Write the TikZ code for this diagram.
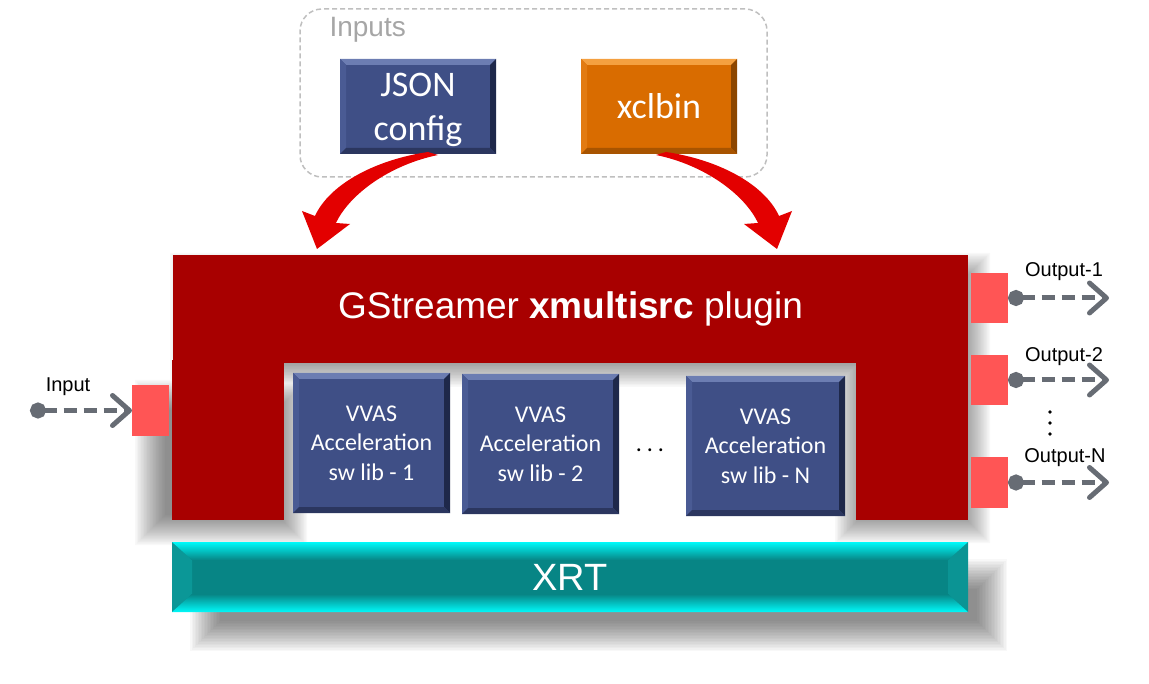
\documentclass[tikz,border=0pt]{standalone}
\usepackage{fontspec}
\setmainfont{Liberation Sans}
\newfontfamily\calib{Carlito}
\usetikzlibrary{arrows.meta,calc}
\definecolor{plugred}{HTML}{A80000}
\definecolor{portred}{HTML}{FF5555}
\definecolor{flowgray}{HTML}{676C74}
\definecolor{arrred}{HTML}{E30000}
\definecolor{navy}{HTML}{3F4F86}
\definecolor{navytop}{HTML}{6C7DB2}
\definecolor{navyleft}{HTML}{4A5B94}
\definecolor{navyright}{HTML}{1E284A}
\definecolor{navybot}{HTML}{2B365F}
\definecolor{orng}{HTML}{D96C00}
\definecolor{orngtop}{HTML}{F4A040}
\definecolor{orngleft}{HTML}{E27B12}
\definecolor{orngright}{HTML}{8C4600}
\definecolor{orngbot}{HTML}{A85400}
\definecolor{teal1}{HTML}{078585}
\definecolor{cyan1}{HTML}{00FAFA}
\definecolor{tealleft}{HTML}{0B9797}
\definecolor{tealright}{HTML}{0B9494}
\definecolor{inputgray}{HTML}{BFBFBF}
\definecolor{labelgray}{HTML}{A6A6A6}
\tikzset{
  box/.style={rectangle, inner sep=0pt, outer sep=0pt, draw=none},
  bev/.style n args={5}{box, fill=#1, path picture={
     \fill[#2] (path picture bounding box.north west) -- (path picture bounding box.north east)
        -- ([shift={(-6pt,-6pt)}]path picture bounding box.north east)
        -- ([shift={(6pt,-6pt)}]path picture bounding box.north west) -- cycle;
     \fill[#3] (path picture bounding box.north west) -- (path picture bounding box.south west)
        -- ([shift={(6pt,6pt)}]path picture bounding box.south west)
        -- ([shift={(6pt,-6pt)}]path picture bounding box.north west) -- cycle;
     \fill[#4] (path picture bounding box.north east) -- (path picture bounding box.south east)
        -- ([shift={(-6pt,6pt)}]path picture bounding box.south east)
        -- ([shift={(-6pt,-6pt)}]path picture bounding box.north east) -- cycle;
     \fill[#5] (path picture bounding box.south west) -- (path picture bounding box.south east)
        -- ([shift={(-6pt,6pt)}]path picture bounding box.south east)
        -- ([shift={(6pt,6pt)}]path picture bounding box.south west) -- cycle;
  }},
  navybox/.style={bev={navy}{navytop}{navyleft}{navyright}{navybot}, text=white, align=center},
  orngbox/.style={bev={orng}{orngtop}{orngleft}{orngright}{orngbot}, text=white, align=center},
  bigtxt/.style={font=\calib\fontsize{36}{44}\selectfont},
  libtxt/.style={font=\calib\fontsize{24}{29.5}\selectfont},
  redpart/.style={box, fill=plugred},
  port/.style={box, fill=portred, minimum width=37pt, minimum height=50pt},
  flow/.style={draw=flowgray, line width=5pt, dash pattern=on 13pt off 7pt,
     {Circle[length=16pt,width=16pt]}-{Straight Barb[length=17pt,width=30pt,line cap=round,line join=round]}},
  outlbl/.style={font=\fontsize{20}{24}\selectfont, anchor=base},
  shadowlayer/.style={fill=black, opacity=0.026},
}
\begin{document}
\begin{tikzpicture}[x=1pt,y=-1pt]
\useasboundingbox (0,0) rectangle (1149,684);

% soft shadows
\foreach \e in {-15,-13.5,...,15} {
  \fill[shadowlayer]
    ({185-\e},{268-\e}) rectangle ({975+\e},{372+\e})
    ({150-\e},{395-\e}) rectangle ({292+\e},{530+\e})
    ({850-\e},{268-\e}) rectangle ({975+\e},{528+\e});
  \fill[shadowlayer]
    ({205-\e},{574-\e}) rectangle ({992+\e},{636+\e});
}

% inputs group
\node[box, draw=inputgray, line width=1.5pt, dash pattern=on 5pt off 3pt, rounded corners=22pt,
      minimum width=467pt, minimum height=168pt] (inputs) at (533.5,93) {};
\node[anchor=base west, text=labelgray, font=\fontsize{28}{32}\selectfont] (inputslbl) at (326,37) {Inputs};

\node[navybox, bigtxt, minimum width=156pt, minimum height=95pt] (json) at (418,106.5) {\rule{0pt}{30pt}JSON\\config};
\node[orngbox, bigtxt, minimum width=156pt, minimum height=95pt] (xclbin) at (659,106.5) {xclbin};

% red curved arrows
\fill[arrred] (428,152) .. controls (374,160) and (329,185) .. (315,216)
   -- (302,211) -- (317,249) -- (350,224) -- (336,223)
   .. controls (349,195) and (389,165) .. (438,155) -- cycle;
\fill[arrred] (666,152) .. controls (720,160) and (765,185) .. (779,216)
   -- (792,211) -- (777,249) -- (744,224) -- (758,223)
   .. controls (745,195) and (705,165) .. (656,155) -- cycle;

% plugin U-shape
\node[redpart, minimum width=112pt, minimum height=160pt] (legL) at (228,440) {};
\node[redpart, minimum width=112pt, minimum height=160pt] (legR) at (912,440) {};
\node[redpart, minimum width=795pt, minimum height=108pt, text=white,
      font=\fontsize{37}{44}\selectfont] (plugin) at (570.5,309) {GStreamer \textbf{xmultisrc} plugin};

% libs
\node[navybox, libtxt, minimum width=157pt, minimum height=140pt] (lib1) at (371.5,443) {VVAS\\Acceleration\\sw lib - 1};
\node[navybox, libtxt, minimum width=157pt, minimum height=140pt] (lib2) at (540.5,444) {VVAS\\Acceleration\\sw lib - 2};
\node[navybox, libtxt, minimum width=159pt, minimum height=140pt] (libN) at (765.5,446) {VVAS\\Acceleration\\sw lib - N};
\node[font=\calib\fontsize{24}{29}\selectfont, anchor=base] (libdots) at (650,452) {.\hspace{5pt}.\hspace{5pt}.};

% XRT
\node[box, fill=teal1, minimum width=796pt, minimum height=70pt, text=white,
      font=\fontsize{38}{44}\selectfont,
      path picture={
        \fill[tealleft] (path picture bounding box.north west) -- (path picture bounding box.south west)
          -- ([shift={(20pt,18pt)}]path picture bounding box.south west)
          -- ([shift={(20pt,-18pt)}]path picture bounding box.north west) -- cycle;
        \fill[tealright] (path picture bounding box.north east) -- (path picture bounding box.south east)
          -- ([shift={(-20pt,18pt)}]path picture bounding box.south east)
          -- ([shift={(-20pt,-18pt)}]path picture bounding box.north east) -- cycle;
        \shade[top color=cyan1, bottom color=teal1] (path picture bounding box.north west) -- (path picture bounding box.north east)
          -- ([shift={(-20pt,-18pt)}]path picture bounding box.north east)
          -- ([shift={(20pt,-18pt)}]path picture bounding box.north west) -- cycle;
        \shade[top color=teal1, bottom color=cyan1] (path picture bounding box.south west) -- (path picture bounding box.south east)
          -- ([shift={(-20pt,18pt)}]path picture bounding box.south east)
          -- ([shift={(20pt,18pt)}]path picture bounding box.south west) -- cycle;
      }] (xrt) at (570,577) {XRT};

% ports
\node[port, minimum height=51pt] (inport) at (150.5,410.5) {};
\node[port] (out1) at (989.5,298) {};
\node[port] (out2) at (989.5,380) {};
\node[port, minimum height=51pt] (outN) at (989.5,482.5) {};

\coordinate (inS) at (30,410.5);
\coordinate (o1) at (1109,298);
\coordinate (o2) at (1109,380);
\coordinate (oN) at (1109,482.5);

\draw[flow] (inS) -- (inport.west);
\draw[flow] (out1.east) -- (o1);
\draw[flow] (out2.east) -- (o2);
\draw[flow] (outN.east) -- (oN);

\node[outlbl] (inlbl) at (68,392) {Input};
\node[outlbl] (o1lbl) at (1064,277) {Output-1};
\node[outlbl] (o2lbl) at (1064,362) {Output-2};
\node[outlbl] (oNlbl) at (1065,463) {Output-N};
\fill[black] (1050,412) circle (1.8pt) (1050,423) circle (1.8pt) (1050,434) circle (1.8pt);
\end{tikzpicture}
\end{document}
